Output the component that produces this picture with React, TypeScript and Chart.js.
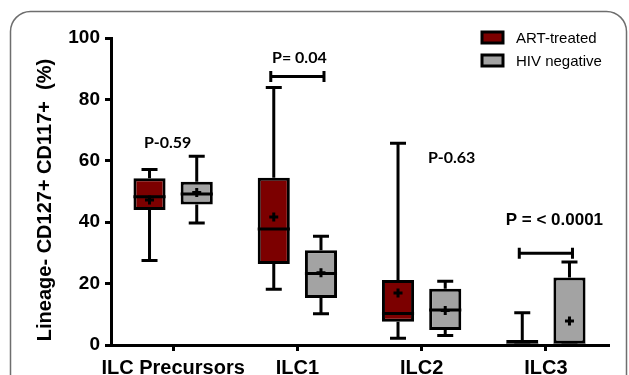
import React, { useEffect, useRef } from "react";
import { Chart, registerables } from "chart.js";

Chart.register(...registerables);

const categories = ["ILC Precursors", "ILC1", "ILC2", "ILC3"];
const seriesNames = ["ART-treated", "HIV negative"];
const seriesColors = ["#7c0000", "#a3a3a3"];

// ART-treated box statistics
const artMin = [27.5, 18.2, 2.2, 0];
const artQ1 = [44.0, 26.4, 7.6, 0];
const artMedian = [48.3, 37.8, 10.3, 0];
const artQ3 = [54.3, 54.5, 21.2, 1.6];
const artMax = [57.2, 83.9, 65.7, 10.5];
const artMean: (number | null)[] = [47.2, 41.7, 16.9, null];

// HIV negative box statistics
const hivMin = [39.7, 10.2, 3.1, 0];
const hivQ1 = [45.8, 15.3, 4.9, 0];
const hivMedian = [49.2, 23.3, 11.4, 0];
const hivQ3 = [53.2, 30.9, 18.3, 22.0];
const hivMax = [61.5, 35.4, 20.8, 27.0];
const hivMean: (number | null)[] = [49.7, 23.5, 11.2, 7.8];

const yTickValues = [0, 20, 40, 60, 80, 100];
const yTitle = "Lineage- CD127+ CD117+  (%)";

// p-value annotations
const pTexts = ["P-0.59", "P= 0.04", "P-0.63", "P = < 0.0001"];
const pCategory = [0, 1, 2, 3];
const pValue = [65.8, 93.4, 60.9, 40.7];
const pShift = [-5.5, 2, 30, 8.5];
const pFonts = [
  "bold 16px Lato",
  "bold 16px Lato",
  "bold 16px Lato",
  "bold 17px 'Liberation Sans', Arial",
];

// significance brackets (category, value)
const bracketCategory = [1, 3];
const bracketValue = [87.5, 29.9];

const stats = [
  { min: artMin, q1: artQ1, med: artMedian, q3: artQ3, max: artMax, mean: artMean },
  { min: hivMin, q1: hivQ1, med: hivMedian, q3: hivQ3, max: hivMax, mean: hivMean },
];

const AX_FONT = "'Liberation Sans', Arial, sans-serif";
const LW = 3;

const boxPlugin = {
  id: "boxExtras",
  beforeDraw(chart: any) {
    const ctx = chart.ctx;
    ctx.save();
    ctx.fillStyle = "#ffffff";
    ctx.fillRect(0, 0, chart.width, chart.height);
    ctx.strokeStyle = "#6e6e6e";
    ctx.lineWidth = 1.5;
    ctx.beginPath();
    ctx.roundRect(10.5, 11.5, 616, 430, 20);
    ctx.stroke();
    ctx.restore();
  },
  beforeDatasetsDraw(chart: any) {
    const ctx = chart.ctx;
    const y = chart.scales.y;
    ctx.save();
    ctx.strokeStyle = "#000";
    ctx.lineWidth = LW;
    ctx.lineCap = "butt";
    stats.forEach((s, di) => {
      const meta = chart.getDatasetMeta(di);
      meta.data.forEach((el: any, i: number) => {
        const x = el.x;
        const cap = 8;
        const yq3 = y.getPixelForValue(s.q3[i]);
        const yMax = y.getPixelForValue(s.max[i]);
        const yq1 = y.getPixelForValue(s.q1[i]);
        const yMin = y.getPixelForValue(s.min[i]);
        ctx.beginPath();
        ctx.moveTo(x, yq3);
        ctx.lineTo(x, yMax);
        ctx.moveTo(x - cap, yMax);
        ctx.lineTo(x + cap, yMax);
        ctx.moveTo(x, yq1);
        ctx.lineTo(x, yMin);
        ctx.moveTo(x - cap, yMin);
        ctx.lineTo(x + cap, yMin);
        ctx.stroke();
      });
    });
    ctx.restore();
  },
  afterDatasetsDraw(chart: any) {
    const ctx = chart.ctx;
    const y = chart.scales.y;
    ctx.save();
    ctx.strokeStyle = "#000";
    ctx.lineWidth = LW;
    stats.forEach((s, di) => {
      const meta = chart.getDatasetMeta(di);
      meta.data.forEach((el: any, i: number) => {
        const x = el.x;
        const w = el.width;
        const ym = y.getPixelForValue(s.med[i]);
        ctx.beginPath();
        ctx.moveTo(x - w / 2, ym);
        ctx.lineTo(x + w / 2, ym);
        ctx.stroke();
        const mv = s.mean[i];
        if (mv !== null) {
          const yMean = y.getPixelForValue(mv);
          ctx.beginPath();
          ctx.moveTo(x - 4.5, yMean);
          ctx.lineTo(x + 4.5, yMean);
          ctx.moveTo(x, yMean - 4.5);
          ctx.lineTo(x, yMean + 4.5);
          ctx.stroke();
        }
      });
    });

    // brackets
    bracketCategory.forEach((c, k) => {
      const a = chart.getDatasetMeta(0).data[c];
      const b = chart.getDatasetMeta(1).data[c];
      const yy = y.getPixelForValue(bracketValue[k]);
      const x0 = a.x - 3;
      const x1 = b.x + 3;
      ctx.beginPath();
      ctx.moveTo(x0, yy);
      ctx.lineTo(x1, yy);
      ctx.moveTo(x0, yy - 5.5);
      ctx.lineTo(x0, yy + 5.5);
      ctx.moveTo(x1, yy - 5.5);
      ctx.lineTo(x1, yy + 5.5);
      ctx.stroke();
    });

    // p-value texts
    const xs = chart.scales.x;
    ctx.fillStyle = "#000";
    ctx.textAlign = "center";
    ctx.textBaseline = "middle";
    pTexts.forEach((t, k) => {
      ctx.font = pFonts[k];
      const px = xs.getPixelForValue(pCategory[k]) + pShift[k];
      const py = y.getPixelForValue(pValue[k]);
      ctx.fillText(t, px, py);
    });

    // y-axis title
    ctx.save();
    ctx.translate(45, 200);
    ctx.rotate(-Math.PI / 2);
    ctx.font = `bold 20px ${AX_FONT}`;
    ctx.fillText(yTitle, 0, 0);
    ctx.restore();

    // legend
    ctx.textAlign = "left";
    ctx.font = `15px ${AX_FONT}`;
    seriesNames.forEach((name, k) => {
      const top = 32 + k * 23;
      ctx.fillStyle = seriesColors[k];
      ctx.fillRect(482, top, 21, 11);
      ctx.lineWidth = LW;
      ctx.strokeStyle = "#000";
      ctx.strokeRect(482, top, 21, 11);
      ctx.fillStyle = "#000";
      ctx.fillText(name, 516, top + 6.5);
    });
    ctx.restore();
  },
};

export default function App() {
  const canvasRef = useRef<HTMLCanvasElement | null>(null);

  useEffect(() => {
    const canvas = canvasRef.current;
    if (!canvas) return;
    const chart = new Chart(canvas, {
      type: "bar",
      data: {
        labels: categories,
        datasets: stats.map((s, di) => ({
          label: seriesNames[di],
          data: s.q1.map((v, i) => [v, s.q3[i]]),
          backgroundColor: seriesColors[di],
          borderColor: "#000",
          borderWidth: LW,
          borderSkipped: false,
          categoryPercentage: 0.76,
          barPercentage: 0.68,
        })) as any,
      },
      options: {
        responsive: false,
        animation: false,
        events: [],
        layout: { padding: { top: 38, right: 21, bottom: 0, left: 0 } },
        plugins: {
          legend: { display: false },
          tooltip: { enabled: false },
        },
        scales: {
          x: {
            offset: true,
            grid: {
              display: true,
              drawOnChartArea: false,
              drawTicks: true,
              tickLength: 6,
              offset: false,
              color: "#000",
              lineWidth: LW,
            },
            border: { display: true, color: "#000", width: LW },
            ticks: {
              color: "#000",
              font: { family: AX_FONT, size: 20, weight: "bold" },
              padding: 5,
              maxRotation: 0,
              autoSkip: false,
            },
            afterFit: (s: any) => {
              s.height = 30;
            },
          },
          y: {
            min: 0,
            max: 100,
            afterBuildTicks: (s: any) => {
              s.ticks = yTickValues.map((v) => ({ value: v }));
            },
            ticks: {
              color: "#000",
              font: { family: AX_FONT, size: 19, weight: "bold" },
              padding: 5,
            },
            grid: {
              drawOnChartArea: false,
              drawTicks: true,
              tickLength: 6,
              color: "#000",
              lineWidth: LW,
            },
            border: { display: true, color: "#000", width: LW },
            title: { display: false },
            afterFit: (s: any) => {
              s.width = 111;
            },
          },
        },
      } as any,
      plugins: [boxPlugin],
    });
    return () => chart.destroy();
  }, []);

  return (
    <div style={{ position: "fixed", left: 0, top: 0, width: 629, height: 375, background: "#fff" }}>
      <canvas ref={canvasRef} width={629} height={375} style={{ display: "block", width: 629, height: 375 }} />
    </div>
  );
}
